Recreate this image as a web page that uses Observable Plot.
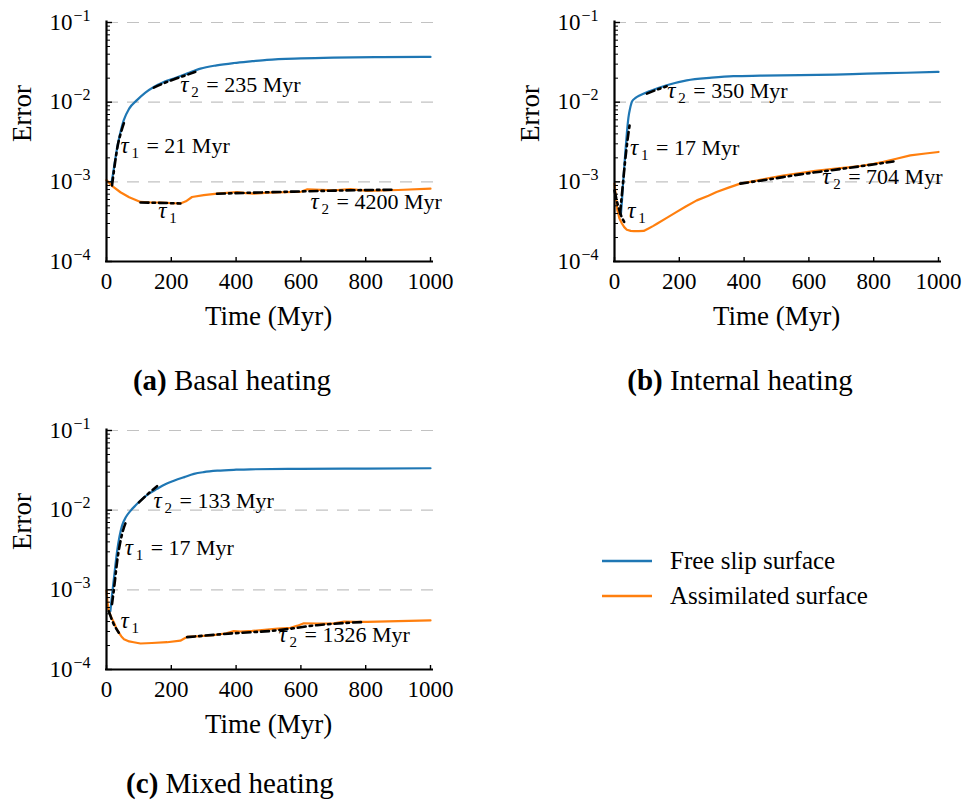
<!DOCTYPE html>
<html><head><meta charset="utf-8">
<script src="https://cdn.jsdelivr.net/npm/d3@7"></script>
<script src="https://cdn.jsdelivr.net/npm/@observablehq/plot@0.6"></script>
<style>
body{margin:0;background:#fff;}
#root{position:relative;width:965px;height:807px;overflow:hidden;background:#fff;}
.panel{position:absolute;}
.panel text{font-family:"Liberation Serif","Times New Roman",serif;}
#overlay{position:absolute;left:0;top:0;pointer-events:none;}
</style></head><body><div id="root"></div>
<script>
// ---- axes / labels ----
const xTicks = [0, 200, 400, 600, 800, 1000];
const yTicks = [1e-4, 1e-3, 1e-2, 1e-1];
const yTickBase = "10";
const yTickExp = ["−4", "−3", "−2", "−1"];
const xLabel = "Time (Myr)";
const yLabel = "Error";
const seriesNames = ["Free slip surface", "Assimilated surface"];
const seriesColors = ["#1f77b4", "#ff7f0e"];
const captionTags = ["(a)", "(b)", "(c)"];
const captionTexts = [" Basal heating", " Internal heating", " Mixed heating"];

// ---- panel (a) Basal heating ----
const aFreeT = [15, 20, 25, 33, 43, 53, 70, 94, 120, 146, 175, 208, 250, 290, 340, 393, 450, 495, 600, 700, 850, 1000];
const aFreeV = [9.5e-4, 1.25e-3, 1.7e-3, 2.7e-3, 4.2e-3, 5.9e-3, 8.3e-3, 1.06e-2, 1.32e-2, 1.55e-2, 1.78e-2, 1.98e-2, 2.3e-2, 2.64e-2, 2.9e-2, 3.1e-2, 3.27e-2, 3.4e-2, 3.55e-2, 3.63e-2, 3.68e-2, 3.7e-2];
const aAssimT = [0, 20, 43, 70, 105, 140, 167, 200, 228, 245, 264, 300, 341, 403, 430, 454, 500, 578, 600, 620, 702, 753, 805, 900, 1000];
const aAssimV = [1.05e-3, 8.7e-4, 7.4e-4, 6.4e-4, 5.6e-4, 5.5e-4, 5.5e-4, 5.4e-4, 5.35e-4, 5.7e-4, 6.45e-4, 6.8e-4, 7.1e-4, 7.45e-4, 7.2e-4, 7.1e-4, 7.3e-4, 7.45e-4, 7.5e-4, 8.05e-4, 7.8e-4, 8.1e-4, 7.7e-4, 7.9e-4, 8.2e-4];
const aFitT = [[17, 26, 35, 45, 54], [146, 180, 215, 245, 274], [105, 160, 228], [341, 500, 700, 886]];
const aFitV = [[9e-4, 1.7e-3, 2.9e-3, 4.2e-3, 5.5e-3], [1.52e-2, 1.75e-2, 1.98e-2, 2.18e-2, 2.4e-2], [5.5e-4, 5.45e-4, 5.35e-4], [7.1e-4, 7.4e-4, 7.75e-4, 7.97e-4]];
const aNoteT = [228, 43, 160, 630];
const aNoteV = [1.34e-2, 2.28e-3, 3.48e-4, 4.52e-4];
const aNoteSub = ["2", "1", "1", "2"];
const aNoteRest = ["= 235 Myr", "= 21 Myr", "", "= 4200 Myr"];

// ---- panel (b) Internal heating ----
const bFreeT = [20, 23, 26, 30, 34, 38, 43, 48, 54, 65, 79, 110, 161, 223, 300, 367, 450, 573, 680, 779, 900, 1000];
const bFreeV = [4e-4, 5.8e-4, 9e-4, 1.5e-3, 2.5e-3, 4e-3, 6.4e-3, 8.3e-3, 1.02e-2, 1.13e-2, 1.22e-2, 1.38e-2, 1.63e-2, 1.88e-2, 2.03e-2, 2.12e-2, 2.15e-2, 2.18e-2, 2.22e-2, 2.28e-2, 2.34e-2, 2.4e-2];
const bAssimT = [0, 4, 9, 15, 23, 30, 38, 50, 60, 75, 90, 105, 120, 131, 160, 192, 220, 254, 290, 315, 350, 388, 430, 470, 520, 573, 620, 676, 720, 758, 800, 830, 870, 913, 960, 1000];
const bAssimV = [9.5e-4, 6.5e-4, 4.4e-4, 3.5e-4, 3.0e-4, 2.7e-4, 2.5e-4, 2.42e-4, 2.4e-4, 2.4e-4, 2.42e-4, 2.6e-4, 2.8e-4, 2.98e-4, 3.5e-4, 4.2e-4, 4.9e-4, 5.85e-4, 6.7e-4, 7.45e-4, 8.4e-4, 9.5e-4, 1.02e-3, 1.1e-3, 1.2e-3, 1.29e-3, 1.37e-3, 1.46e-3, 1.52e-3, 1.58e-3, 1.68e-3, 1.78e-3, 1.95e-3, 2.15e-3, 2.27e-3, 2.37e-3];
const bFitT = [[17, 25, 32, 40, 48], [100, 130, 161], [0, 10, 20, 33], [388, 480, 573, 670, 760, 861]];
const bFitV = [[4e-4, 8.5e-4, 1.7e-3, 3.3e-3, 5.6e-3], [1.28e-2, 1.43e-2, 1.58e-2], [7.8e-4, 5.2e-4, 3.8e-4, 3.0e-4], [9.5e-4, 1.08e-3, 1.24e-3, 1.4e-3, 1.57e-3, 1.8e-3]];
const bNoteT = [163, 48, 39, 641];
const bNoteV = [1.12e-2, 2.15e-3, 3.48e-4, 9.3e-4];
const bNoteSub = ["2", "1", "1", "2"];
const bNoteRest = ["= 350 Myr", "= 17 Myr", "", "= 704 Myr"];

// ---- panel (c) Mixed heating ----
const cFreeT = [12, 17, 23, 33, 48, 60, 74, 90, 105, 130, 156, 180, 208, 240, 270, 300, 342, 400, 444, 600, 800, 1000];
const cFreeV = [5.4e-4, 8.5e-4, 1.4e-3, 3.1e-3, 6.4e-3, 8.2e-3, 9.8e-3, 1.15e-2, 1.32e-2, 1.6e-2, 1.85e-2, 2.1e-2, 2.34e-2, 2.6e-2, 2.85e-2, 3.0e-2, 3.13e-2, 3.22e-2, 3.26e-2, 3.3e-2, 3.33e-2, 3.36e-2];
const cAssimT = [0, 3, 7, 15, 23, 30, 38, 46, 54, 70, 84, 105, 140, 187, 228, 240, 249, 290, 331, 370, 393, 414, 450, 496, 530, 568, 590, 609, 650, 702, 733, 770, 805, 900, 1000];
const cAssimV = [9.8e-4, 7e-4, 5.4e-4, 4.5e-4, 3.9e-4, 3.3e-4, 2.9e-4, 2.6e-4, 2.4e-4, 2.25e-4, 2.2e-4, 2.12e-4, 2.15e-4, 2.2e-4, 2.3e-4, 2.45e-4, 2.57e-4, 2.62e-4, 2.7e-4, 2.85e-4, 3.03e-4, 3.0e-4, 3.05e-4, 3.18e-4, 3.25e-4, 3.34e-4, 3.55e-4, 3.8e-4, 3.78e-4, 3.8e-4, 3.98e-4, 3.95e-4, 3.95e-4, 4.05e-4, 4.13e-4];
const cFitT = [[17, 25, 33, 48, 62], [100, 128, 156], [7, 20, 38], [249, 393, 527, 650, 794]];
const cFitV = [[6.6e-4, 1.2e-3, 2.3e-3, 5e-3, 7.4e-3], [1.25e-2, 1.6e-2, 2.0e-2], [5.4e-4, 3.9e-4, 2.9e-4], [2.55e-4, 2.85e-4, 3.1e-4, 3.6e-4, 3.95e-4]];
const cNoteT = [145, 56, 43, 531];
const cNoteV = [1.07e-2, 2.75e-3, 3.31e-4, 2.21e-4];
const cNoteSub = ["2", "1", "1", "2"];
const cNoteRest = ["= 133 Myr", "= 17 Myr", "", "= 1326 Myr"];

// ---- helpers ----
const yMinor = yTicks.slice(0, -1).flatMap(d => [2, 3, 4, 5, 6, 7, 8, 9].map(k => k * d));
const zip = (T, V) => T.map((t, i) => ({t, v: V[i]}));
const FONT = "Liberation Serif";

function panel(freeT, freeV, assimT, assimV, fitT, fitV, noteT, noteV, noteSub, noteRest) {
  const W = 450, H = 330, mL = 106, mR = 20, mT = 22, mB = 69;
  const pw = W - mL - mR, ph = H - mT - mB;
  const fits = fitT.flatMap((T, i) => T.map((t, j) => ({t, v: fitV[i][j], id: i})));
  const notes = noteT.map((t, i) => ({t, v: noteV[i], sub: noteSub[i], rest: noteRest[i]}));
  const txt = {fontFamily: FONT, fill: "black"};
  return Plot.plot({
    width: W, height: H, marginLeft: mL, marginRight: mR, marginTop: mT, marginBottom: mB,
    x: {domain: [0, 1000], axis: null},
    y: {type: "log", domain: [1e-4, 1e-1], axis: null},
    style: {fontFamily: FONT, fontSize: "22px", background: "transparent", overflow: "visible", color: "black"},
    marks: [
      Plot.ruleY(yTicks.slice(1), {y: d => d, stroke: "#c2c2c2", strokeWidth: 1.2, strokeDasharray: "12,9", insetRight: -3}),
      Plot.line(zip(freeT, freeV), {x: "t", y: "v", stroke: seriesColors[0], strokeWidth: 2.2, curve: "monotone-x"}),
      Plot.line(zip(assimT, assimV), {x: "t", y: "v", stroke: seriesColors[1], strokeWidth: 2.2}),
      Plot.line(fits, {x: "t", y: "v", z: "id", stroke: "black", strokeWidth: 2.6, strokeDasharray: "8,4,2.5,4", curve: "monotone-x"}),
      Plot.ruleX([0], {x: d => d, stroke: "black", strokeWidth: 2.2, insetTop: -1.5, insetBottom: -1}),
      Plot.ruleY([1e-4], {y: d => d, stroke: "black", strokeWidth: 2.2, insetRight: -3, insetLeft: -1}),
      Plot.tickY(yTicks, {y: d => d, stroke: "black", strokeWidth: 1.4, insetRight: pw - 6}),
      Plot.tickY(yMinor, {y: d => d, stroke: "black", strokeWidth: 1, insetRight: pw - 4}),
      Plot.tickX(xTicks, {x: d => d, stroke: "black", strokeWidth: 1.4, insetTop: ph - 4}),
      Plot.text(yTicks, {...txt, y: d => d, frameAnchor: "left", text: () => yTickBase, textAnchor: "end", lineAnchor: "bottom", dx: -34, dy: 7, fontSize: 23}),
      Plot.text(yTicks, {...txt, y: d => d, frameAnchor: "left", text: (d, i) => yTickExp[i], textAnchor: "start", lineAnchor: "bottom", dx: -33, dy: -2, fontSize: 16}),
      Plot.text(xTicks, {...txt, x: d => d, frameAnchor: "bottom", text: d => String(d), lineAnchor: "bottom", dy: 27, fontSize: 23}),
      Plot.text([xLabel], {...txt, frameAnchor: "bottom", text: d => d, lineAnchor: "bottom", dy: 63, fontSize: 27}),
      Plot.text([yLabel], {...txt, frameAnchor: "left", text: d => d, rotate: -90, dx: -84, fontSize: 27}),
      Plot.text(notes, {...txt, x: "t", y: "v", text: () => "τ", fontStyle: "italic", textAnchor: "start", lineAnchor: "bottom", fontSize: 23}),
      Plot.text(notes, {...txt, x: "t", y: "v", text: "sub", textAnchor: "start", lineAnchor: "bottom", dx: 11, dy: 5, fontSize: 15}),
      Plot.text(notes, {...txt, x: "t", y: "v", text: "rest", textAnchor: "start", lineAnchor: "bottom", dx: 26, fontSize: 22})
    ]
  });
}

const root = document.getElementById("root");
const panels = [
  [panel(aFreeT, aFreeV, aAssimT, aAssimV, aFitT, aFitV, aNoteT, aNoteV, aNoteSub, aNoteRest), 0, 0],
  [panel(bFreeT, bFreeV, bAssimT, bAssimV, bFitT, bFitV, bNoteT, bNoteV, bNoteSub, bNoteRest), 508, 0],
  [panel(cFreeT, cFreeV, cAssimT, cAssimV, cFitT, cFitV, cNoteT, cNoteV, cNoteSub, cNoteRest), 0, 408]
];
for (const [el, left, top] of panels) {
  el.classList.add("panel");
  el.style.left = left + "px";
  el.style.top = top + "px";
  root.appendChild(el);
}

// captions + legend overlay
const svg = d3.select(root).append("svg").attr("id", "overlay").attr("width", 965).attr("height", 807)
  .style("font-family", "'Liberation Serif', serif");
const capPos = [[232, 390], [740, 390], [230, 793]];
captionTags.forEach((tag, i) => {
  const t = svg.append("text").attr("x", capPos[i][0]).attr("y", capPos[i][1])
    .attr("text-anchor", "middle").attr("font-size", 29).attr("fill", "black");
  t.append("tspan").attr("font-weight", "bold").text(tag);
  t.append("tspan").text(captionTexts[i]);
});
const legY = [561, 596];
seriesNames.forEach((name, i) => {
  svg.append("line").attr("x1", 602).attr("x2", 652).attr("y1", legY[i]).attr("y2", legY[i])
    .attr("stroke", seriesColors[i]).attr("stroke-width", 2.5);
  svg.append("text").attr("x", 670).attr("y", legY[i] + 8).attr("font-size", 25).attr("fill", "black").text(name);
});
</script></body></html>
